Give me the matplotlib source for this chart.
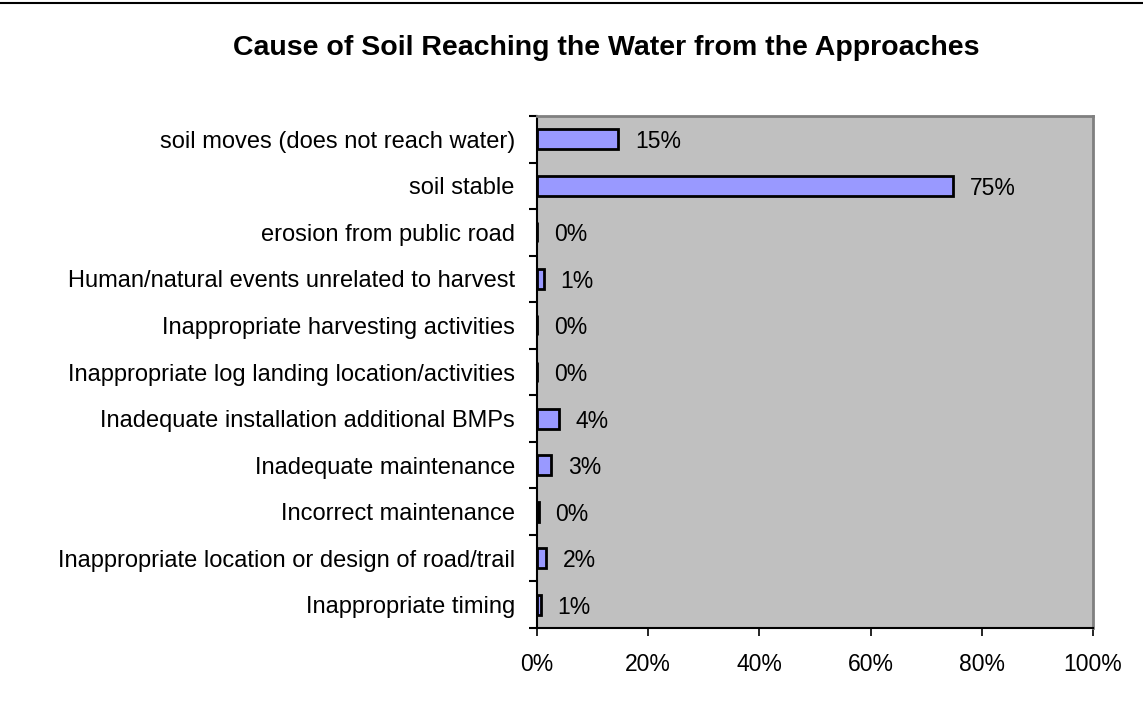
import numpy as np
import matplotlib.pyplot as plt

plt.rcParams['font.family'] = ['Liberation Sans', 'DejaVu Sans']

# causes, listed top to bottom
causes = [
    'soil moves (does not reach water)',
    'soil stable',
    'erosion from public road',
    'Human/natural events unrelated to harvest',
    'Inappropriate harvesting activities',
    'Inappropriate log landing location/activities',
    'Inadequate installation additional BMPs',
    'Inadequate maintenance',
    'Incorrect maintenance',
    'Inappropriate location or design of road/trail',
    'Inappropriate timing',
]
# share of approaches (%)
share = [14.6, 74.8, 0.0, 1.2, 0.0, 0.0, 3.9, 2.6, 0.3, 1.7, 0.7]

fig = plt.figure(figsize=(11.43, 7.13), dpi=100)
ax = fig.add_axes([537 / 1143, 1 - 628 / 713, 556 / 1143, 512 / 713])

y = np.arange(len(causes))
ax.barh(y, share, height=0.43, color='#9999FF', edgecolor='black', linewidth=2)
for yi, v in zip(y, share):
    ax.annotate(f'{v:.0f}%', (v, yi), xytext=(12, 0), textcoords='offset points',
                va='center_baseline', ha='left', fontsize=16.5)

ax.set_facecolor('#C0C0C0')
ax.set_xlim(0, 100)
ax.set_ylim(len(causes) - 0.5, -0.5)
ax.set_xticks(np.arange(0, 101, 20))
ax.set_xticklabels([f'{t}%' for t in range(0, 101, 20)], fontsize=16.5)
ax.set_yticks(y)
ax.set_yticklabels(causes, fontsize=17)
ax.tick_params(axis='y', length=0, pad=16)
ax.set_yticks(np.arange(-0.5, len(causes)), minor=True)
ax.tick_params(axis='y', which='minor', length=6, width=1.5, direction='out')
ax.tick_params(axis='x', length=6, width=1.2, direction='out', pad=12)

for side in ('top', 'right'):
    ax.spines[side].set_color('#808080')
    ax.spines[side].set_linewidth(2)
for side in ('left', 'bottom'):
    ax.spines[side].set_color('black')
    ax.spines[side].set_linewidth(1.5)

fig.text(606 / 1143, 1 - 48 / 713, 'Cause of Soil Reaching the Water from the Approaches',
         ha='center', va='center', fontsize=20.5, fontweight='bold')
fig.add_artist(plt.Line2D([0, 1], [1 - 3 / 713, 1 - 3 / 713], color='black', linewidth=1.5))

fig.savefig('out.png', dpi=100)
